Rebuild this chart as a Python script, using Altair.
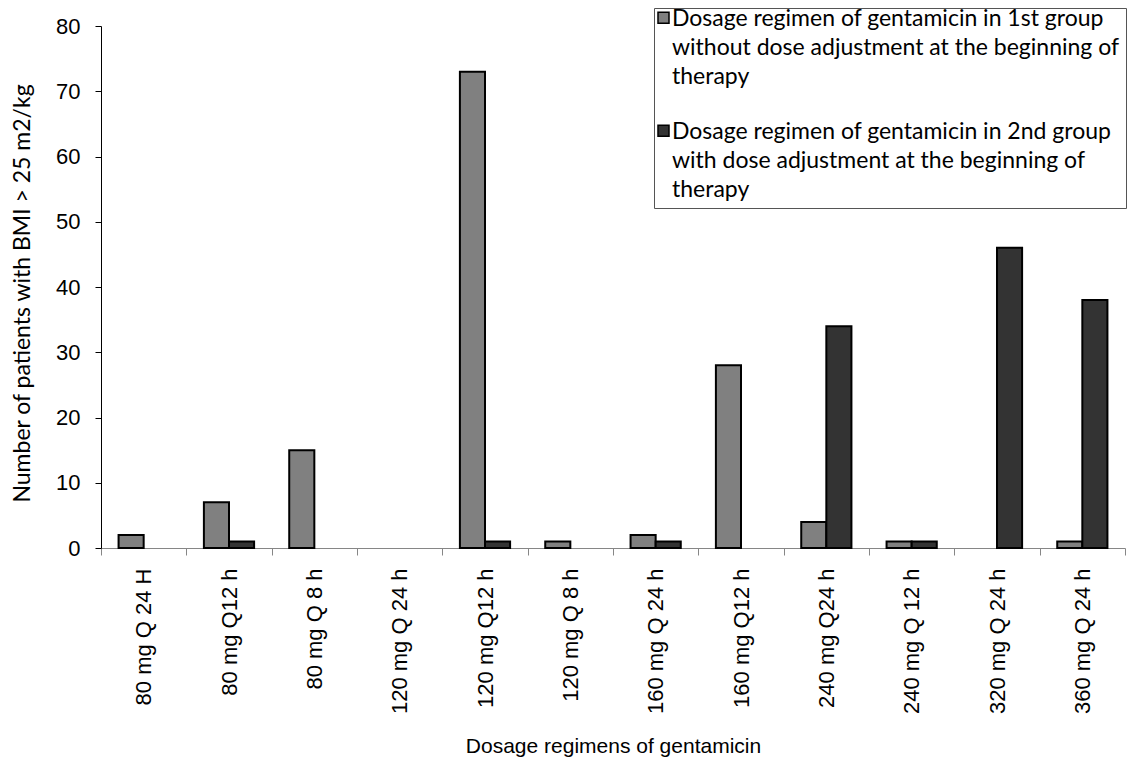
import altair as alt
import pandas as pd

regimens = [
    "80 mg Q 24 H", "80 mg Q12 h", "80 mg Q 8 h", "120 mg Q 24 h",
    "120 mg Q12 h", "120 mg Q 8 h", "160 mg Q 24 h", "160 mg Q12 h",
    "240 mg Q24 h", "240 mg Q 12 h", "320 mg Q 24 h", "360 mg Q 24 h",
]
group1_counts = [2, 7, 15, 0, 73, 1, 2, 28, 4, 1, 0, 1]
group2_counts = [0, 1, 0, 0, 1, 0, 1, 0, 34, 1, 46, 38]
series_names = [
    "Dosage regimen of gentamicin in 1st group|without dose adjustment at the beginning of|therapy",
    "Dosage regimen of gentamicin in 2nd group|with dose adjustment at the beginning of|therapy",
]
series_colors = ["#808080", "#333333"]
y_ticks = [0, 10, 20, 30, 40, 50, 60, 70, 80]

rows = []
for reg, a, b in zip(regimens, group1_counts, group2_counts):
    rows.append({"regimen": reg, "series": series_names[0], "count": a})
    rows.append({"regimen": reg, "series": series_names[1], "count": b})
df = pd.DataFrame(rows)

legend_symbol = "M-1,-2.4H1V-0.4H-1Z"

chart = (
    alt.Chart(df)
    .transform_filter("datum.count > 0")
    .mark_bar(stroke="black", strokeWidth=2)
    .encode(
        x=alt.X(
            "regimen:N",
            sort=regimens,
            scale=alt.Scale(domain=regimens, paddingInner=0, paddingOuter=0),
            axis=alt.Axis(
                title="Dosage regimens of gentamicin",
                labelAngle=-90,
                labelFont="Liberation Sans",
                labelFontSize=22,
                labelColor="black",
                labelPadding=13,
                labelLimit=400,
                tickSize=7,
                tickColor="#868686",
                domainColor="#868686",
                tickBand="extent",
                titleFont="Liberation Sans",
                titleFontSize=21,
                titleFontWeight="normal",
                titleColor="black",
                titleBaseline="top",
                titleY=187,
            ),
        ),
        xOffset=alt.XOffset(
            "series:N",
            sort=series_names,
            scale=alt.Scale(domain=series_names, paddingInner=0, paddingOuter=0.7),
        ),
        y=alt.Y(
            "count:Q",
            scale=alt.Scale(domain=[0, 80]),
            axis=alt.Axis(
                values=y_ticks,
                title="Number of patients with BMI > 25 m2/kg",
                grid=False,
                domainColor="black",
                tickColor="black",
                tickSize=6,
                labelFont="Liberation Sans",
                labelFontSize=22,
                labelColor="black",
                labelPadding=15,
                titleFont="Lato",
                titleFontSize=23,
                titleFontWeight="normal",
                titleColor="black",
                titleX=-79,
                titleY=267,
                titleBaseline="middle",
                titleAlign="center",
            ),
        ),
        color=alt.Color(
            "series:N",
            scale=alt.Scale(domain=series_names, range=series_colors),
            legend=alt.Legend(
                title=None,
                orient="none",
                legendX=553,
                legendY=-18,
                direction="vertical",
                symbolType=legend_symbol,
                symbolSize=121,
                symbolOffset={"expr": "-8"},
                symbolStrokeColor="black",
                symbolStrokeWidth=1.5,
                labelFont="Lato",
                labelFontSize=23,
                labelColor="black",
                labelBaseline="alphabetic",
                labelLimit=700,
                labelOffset={"expr": "-3"},
                padding=6,
                rowPadding=31,
                strokeColor="#555555",
                fillColor="white",
                labelExpr="split(datum.label, '|')",
            ),
        ),
    )
    .properties(
        width=1024,
        height=522,
        autosize=alt.AutoSizeParams(type="none"),
        padding={"left": 93, "top": 18, "right": 5, "bottom": 210},
    )
    .configure(
        view=alt.ViewConfig(stroke="transparent"),
        style={"guide-label": {"lineHeight": 29}},
    )
)

chart.save("out.html", embed_options={"renderer": "svg", "actions": False})
